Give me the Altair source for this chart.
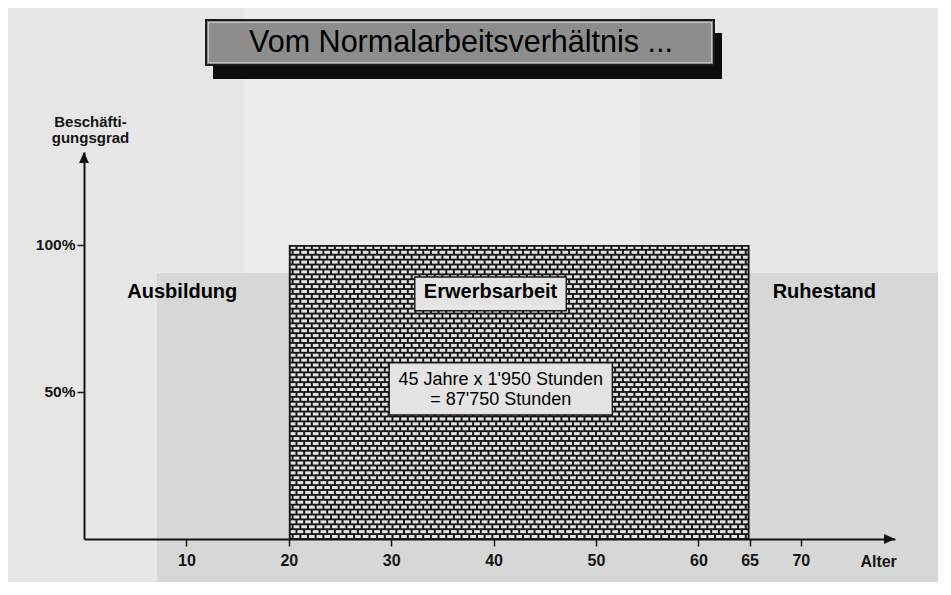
import altair as alt
import numpy as np
import pandas as pd

# ---------------- data ----------------
tick_ages = [10, 20, 30, 40, 50, 60, 65, 70]
pct_ticks = [50, 100]
phase_names = ["Ausbildung", "Erwerbsarbeit", "Ruhestand"]
work_start = 20
work_end = 65
work_level = 100
calc_lines = ["45 Jahre x 1'950 Stunden", "= 87'750 Stunden"]
title_text = "Vom Normalarbeitsverhältnis ..."
y_title = "Beschäfti-\ngungsgrad"
x_title = "Alter"

# annotation anchors (data units)
label_x = [9.6, 39.7, 72.3]
label_y = 84
box_erw = (32.3, 47.1, 77.6, 89.1)
box_calc = (29.8, 51.6, 42.2, 59.9)
calc_x = 40.7
calc_y = [54.1, 47.3]
alter_x = 77.6

X_MAX = 79.2
Y_MAX = 131.6
W, H = 811, 387
FONT = "Liberation Sans"
INK = "#141414"

xs = alt.Scale(domain=[0, X_MAX], nice=False, zero=False)
ys = alt.Scale(domain=[0, Y_MAX], nice=False, zero=False)
ax_x = alt.Axis(values=tick_ages, title=None, grid=False, domainColor=INK, domainWidth=2,
                tickColor=INK, tickWidth=1.5, tickSize=7, labelFont=FONT, labelFontWeight="bold",
                labelFontSize=16, labelColor=INK, labelPadding=6, labelFlush=False,
                labelOverlap=False, zindex=1)
ax_y = alt.Axis(values=pct_ticks, title=None, grid=False, domainColor=INK, domainWidth=2,
                tickColor=INK, tickWidth=1.5, tickSize=7, labelFont=FONT, labelFontWeight="bold",
                labelFontSize=15.5, labelColor=INK, labelPadding=2, labelExpr="datum.value + '%'",
                labelFlush=False, labelOverlap=False, zindex=1)

def X(f):
    return alt.X(f, type="quantitative", scale=xs, axis=ax_x)

def Y(f):
    return alt.Y(f, type="quantitative", scale=ys, axis=ax_y)

# ---------------- background (scan shading) ----------------
one = pd.DataFrame({"a": [0]})
bg_light = alt.Chart(one).mark_rect(fill="#ececec").encode(
    x=alt.value(159), x2=alt.value(556), y=alt.value(-160), y2=alt.value(121))
bg_dark = alt.Chart(one).mark_rect(fill="#d7d7d7").encode(
    x=alt.value(73), x2=alt.value(900), y=alt.value(121), y2=alt.value(460))

# ---------------- title box ----------------
t_shadow = alt.Chart(one).mark_rect(fill="#0c0c0c").encode(
    x=alt.value(129), x2=alt.value(638), y=alt.value(-119), y2=alt.value(-73))
t_box = alt.Chart(one).mark_rect(fill="#8d8d8d", stroke="#1a1a1a", strokeWidth=2).encode(
    x=alt.value(122), x2=alt.value(630), y=alt.value(-132), y2=alt.value(-87))
t_inner = alt.Chart(one).mark_rect(fill=None, stroke="#c4c4c4", strokeWidth=1).encode(
    x=alt.value(124.5), x2=alt.value(627.5), y=alt.value(-129.5), y2=alt.value(-89.5))
t_text = alt.Chart(pd.DataFrame({"t": [title_text]})).mark_text(
    font=FONT, fontSize=30.5, color="#000000", align="center", baseline="middle").encode(
    x=alt.value(377), y=alt.value(-109), text="t:N")

# ---------------- work block with brick texture ----------------
work = pd.DataFrame({"x0": [work_start], "x1": [work_end], "y0": [0], "y1": [work_level]})
block = alt.Chart(work).mark_rect(fill="#161616").encode(
    x=X("x0"), x2="x1", y=Y("y0"), y2="y1")

rows, per_row = 60, 60
bw = (work_end - work_start) / per_row
bh = work_level / rows
gx, gy = 0.19, 0.62
recs = []
for r in range(rows):
    off = 0.0 if r % 2 == 0 else -bw / 2
    top = work_level - r * bh
    y1 = top - (gy if r == 0 else gy / 2)
    y0 = top - bh + (gy / 2)
    for c in range(per_row + 1):
        a = work_start + off + c * bw
        b = a + bw
        x0 = max(a + gx / 2, work_start + gx)
        x1 = min(b - gx / 2, work_end - gx)
        if x1 - x0 > 0.05:
            recs.append((x0, x1, y0, y1))
bricks = pd.DataFrame(recs, columns=["x0", "x1", "y0", "y1"])
brick_layer = alt.Chart(bricks).mark_rect(fill="#e2e2e2").encode(
    x=X("x0"), x2="x1", y=Y("y0"), y2="y1")

# ---------------- annotation boxes ----------------
boxes = pd.DataFrame({"x0": [box_erw[0], box_calc[0]], "x1": [box_erw[1], box_calc[1]],
                      "y0": [box_erw[2], box_calc[2]], "y1": [box_erw[3], box_calc[3]]})
box_layer = alt.Chart(boxes).mark_rect(fill="#e4e4e4", stroke="#1a1a1a", strokeWidth=1.5).encode(
    x=X("x0"), x2="x1", y=Y("y0"), y2="y1")

labels = pd.DataFrame({"name": phase_names, "x": label_x, "y": [label_y] * 3})
label_layer = alt.Chart(labels).mark_text(
    font=FONT, fontSize=20, fontWeight="bold", color="#000000", align="center", baseline="middle").encode(
    x=X("x"), y=Y("y"), text="name:N")

calc = pd.DataFrame({"t": calc_lines, "x": [calc_x] * 2, "y": calc_y})
calc_layer = alt.Chart(calc).mark_text(
    font=FONT, fontSize=18, color="#000000", align="center", baseline="middle").encode(
    x=X("x"), y=Y("y"), text="t:N")

# ---------------- axis arrows and titles ----------------
arr_x = alt.Chart(pd.DataFrame({"x": [X_MAX], "y": [0]})).mark_point(
    shape="M0,0L-1,-0.45L-1,0.45Z", filled=True, fill=INK, size=484, opacity=1, strokeWidth=0).encode(
    x=X("x"), y=Y("y"))
arr_y = alt.Chart(pd.DataFrame({"x": [0], "y": [Y_MAX]})).mark_point(
    shape="M0,0L-0.45,1L0.45,1Z", filled=True, fill=INK, size=484, opacity=1, strokeWidth=0).encode(
    x=X("x"), y=Y("y"))

ytitle = alt.Chart(pd.DataFrame({"t": [y_title]})).mark_text(
    font=FONT, fontSize=15, fontWeight="bold", color=INK, align="center", baseline="middle",
    lineBreak="\n", lineHeight=16).encode(x=alt.value(6.5), y=alt.value(-30), text="t:N")
xtitle = alt.Chart(pd.DataFrame({"t": [x_title], "x": [alter_x]})).mark_text(
    font=FONT, fontSize=16, fontWeight="bold", color=INK, align="center", baseline="middle").encode(
    x=X("x"), y=alt.value(410), text="t:N")

chart = alt.layer(
    bg_light, bg_dark, t_shadow, t_box, t_inner, t_text,
    block, brick_layer, box_layer, label_layer, calc_layer,
    arr_x, arr_y, ytitle, xtitle
).properties(
    width=W, height=H,
    padding={"left": 76, "top": 144, "right": 43, "bottom": 43},
    autosize=alt.AutoSizeParams(type="none"),
).configure(background="#e6e6e6").configure_view(stroke=None)

chart.save("out.html", embed_options={"renderer": "svg", "actions": False})
